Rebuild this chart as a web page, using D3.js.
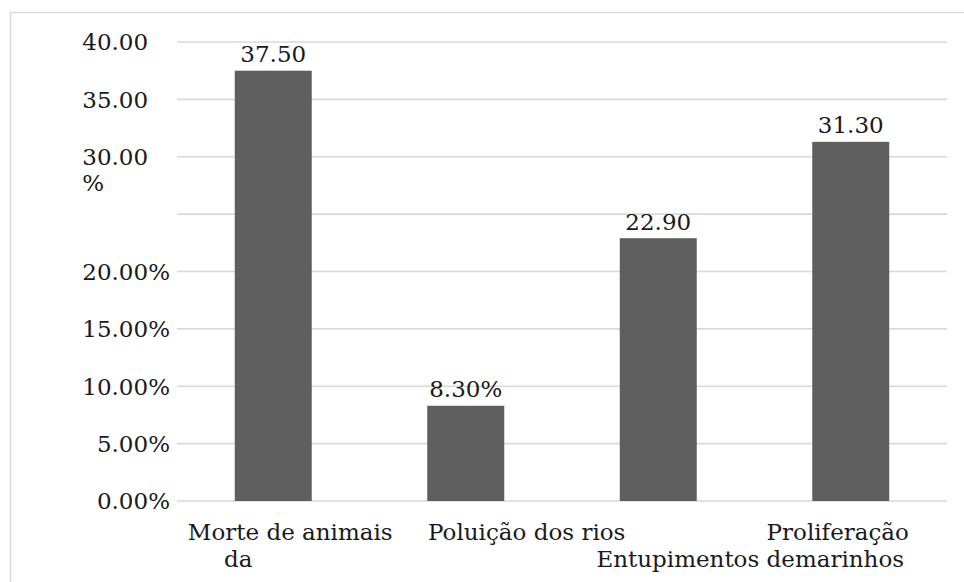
<!DOCTYPE html>
<html>
<head>
<meta charset="utf-8">
<script src="https://cdn.jsdelivr.net/npm/d3@7"></script>
<style>
  html, body { margin: 0; padding: 0; background: #fff; }
  svg { display: block; }
  text { font-family: "DejaVu Serif", "Liberation Serif", serif; fill: #1a1a1a; }
</style>
</head>
<body>
<svg id="chart" width="964" height="582"></svg>
<script>
// Consequências apontadas (%)
const categories = ["Morte de animais", "Poluição dos rios", "Entupimentos", "Proliferação"];
const values = [37.5, 8.3, 22.9, 31.3];
const valueLabels = ["37.50", "8.30%", "22.90", "31.30"];
const yTicks = [0, 5, 10, 15, 20, 25, 30, 35, 40];
const yTickLabels = ["0.00%", "5.00%", "10.00%", "15.00%", "20.00%", "", "30.00\n%", "35.00", "40.00"];
// category label lines as printed under the axis: [text, category index, line]
const xLabelLines = [
  ["Morte de animais", 0, 0],
  ["da", 0, 1],
  ["Poluição dos rios", 1, 0],
  ["Proliferação", 3, 0],
  ["Entupimentos demarinhos", 2, 1]
];

const svg = d3.select("#chart");
const W = 964, H = 582;
const margin = { left: 177, right: 17, top: 42, bottom: 81 };
const fontSize = 23;

// outer frame (runs off the right and bottom edges)
svg.append("rect")
  .attr("x", 10.5).attr("y", 12.5)
  .attr("width", W).attr("height", H)
  .attr("fill", "none").attr("stroke", "#d9d9d9").attr("stroke-width", 1.5);

const x = d3.scaleBand()
  .domain(categories)
  .range([margin.left, W - margin.right])
  .paddingInner(0.6).paddingOuter(0.3);

const y = d3.scaleLinear()
  .domain([0, 40])
  .range([H - margin.bottom, margin.top]);

// gridlines
svg.append("g")
  .selectAll("line")
  .data(yTicks)
  .join("line")
  .attr("x1", margin.left).attr("x2", W - margin.right)
  .attr("y1", d => y(d)).attr("y2", d => y(d))
  .attr("stroke", "#d9d9d9").attr("stroke-width", 1.6);

// y tick labels, wrapped inside a fixed-width label box
const labelRight = 170;
const probe = svg.append("text").attr("font-size", fontSize).text("20.00%");
const boxWidth = probe.node().getComputedTextLength();
probe.remove();

const yLab = svg.append("g").attr("font-size", fontSize);
yTicks.forEach((t, i) => {
  const lbl = yTickLabels[i];
  if (!lbl) return;
  const lines = lbl.split("\n");
  const full = lines.length === 1 && lines[0].endsWith("%");
  const lx = full ? labelRight : labelRight - boxWidth;
  const txt = yLab.append("text")
    .attr("text-anchor", full ? "end" : "start")
    .attr("y", y(t));
  lines.forEach((ln, j) => {
    txt.append("tspan")
      .attr("x", lx)
      .attr("dy", j === 0 ? "0.36em" : 26)
      .text(ln);
  });
});

// bars
svg.append("g")
  .selectAll("rect")
  .data(values)
  .join("rect")
  .attr("x", (d, i) => x(categories[i]))
  .attr("width", x.bandwidth())
  .attr("y", d => y(d))
  .attr("height", d => y(0) - y(d))
  .attr("fill", "#5f5f5f");

// value labels
svg.append("g")
  .attr("font-size", fontSize)
  .selectAll("text")
  .data(values)
  .join("text")
  .attr("x", (d, i) => x(categories[i]) + x.bandwidth() / 2)
  .attr("y", d => y(d) - 8.5)
  .attr("text-anchor", "middle")
  .text((d, i) => valueLabels[i]);

// category labels
const xOffsets = [[17, -35], [61, 0], [0, 92], [-13, 0]];
const lineBase = [540, 567];
svg.append("g")
  .attr("font-size", fontSize)
  .selectAll("text")
  .data(xLabelLines)
  .join("text")
  .attr("x", d => x(categories[d[1]]) + x.bandwidth() / 2 + xOffsets[d[1]][d[2]])
  .attr("y", d => lineBase[d[2]])
  .attr("text-anchor", "middle")
  .text(d => d[0]);
</script>
</body>
</html>
